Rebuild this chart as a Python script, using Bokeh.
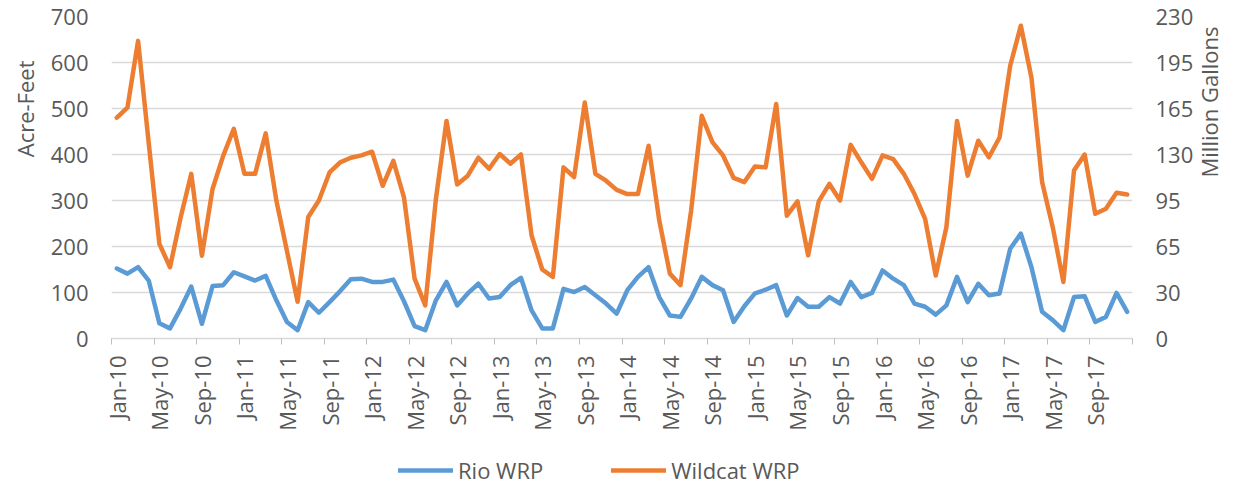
import numpy as np
from math import pi
from bokeh.plotting import figure
from bokeh.layouts import column
from bokeh.models import (Range1d, LinearAxis, FixedTicker, Legend, LegendItem,
                          ColumnDataSource, Title)
from bokeh.embed import file_html
from bokeh.resources import INLINE

# ---------------- data ----------------
month_names = ["Jan", "Feb", "Mar", "Apr", "May", "Jun",
               "Jul", "Aug", "Sep", "Oct", "Nov", "Dec"]
years = list(range(10, 18))
months = [f"{m}-{y:02d}" for y in years for m in month_names]   # Jan-10 .. Dec-17

rio_wrp = [152, 141, 155, 126, 33, 22, 65, 113, 32, 114, 116, 144,
           135, 126, 136, 83, 36, 18, 79, 56, 79, 103, 129, 130,
           123, 123, 128, 81, 27, 18, 83, 123, 72, 98, 119, 87,
           90, 116, 132, 61, 22, 22, 108, 101, 112, 94, 76, 54,
           105, 134, 155, 90, 50, 47, 87, 134, 116, 105, 36, 70,
           98, 106, 116, 50, 88, 69, 69, 90, 76, 123, 90, 99,
           148, 130, 116, 76, 69, 52, 72, 134, 79, 119, 94, 98,
           195, 228, 155, 58, 40, 18, 90, 92, 36, 47, 99, 58]

wildcat_wrp = [480, 502, 647, 425, 206, 155, 263, 358, 180, 325, 397, 456,
               358, 358, 446, 300, 190, 80, 264, 300, 361, 383, 393, 398,
               406, 332, 386, 307, 130, 72, 303, 473, 335, 354, 393, 369,
               401, 380, 400, 224, 150, 134, 372, 351, 513, 358, 343, 323,
               314, 314, 419, 257, 141, 116, 278, 484, 427, 398, 349, 340,
               374, 372, 510, 267, 298, 181, 298, 336, 300, 421, 383, 347,
               398, 390, 358, 314, 260, 137, 242, 473, 354, 430, 394, 437,
               593, 680, 567, 340, 242, 123, 365, 400, 271, 282, 317, 313]

left_ticks = [0, 100, 200, 300, 400, 500, 600, 700]
right_tick_labels = ["0", "30", "65", "95", "130", "165", "195", "230"]
left_title = "Acre-Feet"
right_title = "Million Gallons"
series_names = ["Rio WRP", "Wildcat WRP"]
label_every = 4

# ---------------- styling ----------------
FONT = "Open Sans"
TXT = "#595959"
GRID = "#D9D9D9"
BLUE = "#5B9BD5"
ORANGE = "#ED7D31"
FS = "22px"
LW = 4.5
W = 1243
MAIN_H = 438
LEG_H = 485 - MAIN_H

n = len(months)
idx = list(range(n))
src = ColumnDataSource(dict(x=idx, month=months, rio=rio_wrp, wildcat=wildcat_wrp))

p = figure(width=W, height=MAIN_H,
           x_range=Range1d(-0.5, n - 0.5), y_range=Range1d(0, 700),
           output_backend="svg", toolbar_location=None,
           min_border_left=111, min_border_right=111,
           min_border_top=16, min_border_bottom=MAIN_H - 338)
p.outline_line_color = None

# grid
p.xgrid.visible = False
p.ygrid.grid_line_color = GRID
p.ygrid.grid_line_width = 1.3

# left axis
ya = p.yaxis[0]
ya.ticker = FixedTicker(ticks=left_ticks)
ya.axis_line_color = None
ya.major_tick_line_color = None
ya.minor_tick_line_color = None
ya.major_tick_out = 0
ya.major_tick_in = 0
ya.major_label_standoff = 23
ya.major_label_text_font = FONT
ya.major_label_text_font_size = FS
ya.major_label_text_color = TXT

# left title (outside the left axis)
p.add_layout(Title(text=left_title, align="right", offset=44,
                   vertical_align="top", standoff=12,
                   text_font=FONT, text_font_size=FS, text_font_style="normal",
                   text_color=TXT), "left")

# right axis
ra = LinearAxis(ticker=FixedTicker(ticks=left_ticks),
                major_label_overrides={t: s for t, s in zip(left_ticks, right_tick_labels)})
ra.axis_line_color = None
ra.major_tick_line_color = None
ra.minor_tick_line_color = None
ra.major_tick_out = 0
ra.major_tick_in = 0
ra.major_label_standoff = 23
ra.major_label_text_font = FONT
ra.major_label_text_font_size = FS
ra.major_label_text_color = TXT
props = ra.properties()
if "axis_label_orientation" in props:
    ra.axis_label = right_title
    ra.axis_label_orientation = pi / 2          # reads bottom-to-top
    ra.axis_label_standoff = 13
    ra.axis_label_text_font = FONT
    ra.axis_label_text_font_size = FS
    ra.axis_label_text_font_style = "normal"
    ra.axis_label_text_color = TXT
    p.add_layout(ra, "right")
else:
    p.add_layout(ra, "right")
    p.add_layout(Title(text=right_title, align="left", offset=7,
                       text_font=FONT, text_font_size=FS,
                       text_font_style="normal", text_color=TXT), "right")

# bottom axis
xa = p.xaxis[0]
label_pos = idx[::label_every]
xa.ticker = FixedTicker(ticks=label_pos,
                        minor_ticks=[i - 0.5 for i in range(0, n + 1, label_every)])
xa.major_label_overrides = {i: months[i] for i in label_pos}
xa.major_tick_line_color = None
xa.major_tick_out = 0
xa.major_tick_in = 0
xa.minor_tick_line_color = "#BFBFBF"
xa.minor_tick_out = 6
xa.minor_tick_in = 0
xa.axis_line_color = GRID
xa.axis_line_width = 1.3
xa.major_label_orientation = pi / 2
xa.major_label_standoff = 11
xa.major_label_text_font = FONT
xa.major_label_text_font_size = FS
xa.major_label_text_color = TXT

# lines
r1 = p.line("x", "rio", source=src, line_color=BLUE, line_width=LW,
            line_join="round", line_cap="round")
r2 = p.line("x", "wildcat", source=src, line_color=ORANGE, line_width=LW,
            line_join="round", line_cap="round")

# ---- legend strip below the chart (proxy renderers hold no visible data) ----
lf = figure(width=W, height=LEG_H, x_range=Range1d(0, 1), y_range=Range1d(0, 1),
            output_backend="svg", toolbar_location=None, min_border=0)
lf.axis.visible = False
lf.grid.visible = False
lf.outline_line_color = None
proxy = ColumnDataSource(dict(x=[np.nan], y=[np.nan]))
k1 = lf.line("x", "y", source=proxy, line_color=BLUE, line_width=LW, line_cap="round")
k2 = lf.line("x", "y", source=proxy, line_color=ORANGE, line_width=LW, line_cap="round")
legend = Legend(items=[LegendItem(label=series_names[0], renderers=[k1]),
                       LegendItem(label=series_names[1], renderers=[k2])],
                orientation="horizontal", location=(287, 0),
                glyph_width=55, glyph_height=30, label_standoff=5, spacing=68,
                padding=0, margin=0, border_line_color=None,
                background_fill_alpha=0,
                label_text_font=FONT, label_text_font_size=FS,
                label_text_color=TXT)
lf.add_layout(legend)

layout = column(p, lf, spacing=0)
open("out.html", "w").write(file_html(layout, INLINE))
